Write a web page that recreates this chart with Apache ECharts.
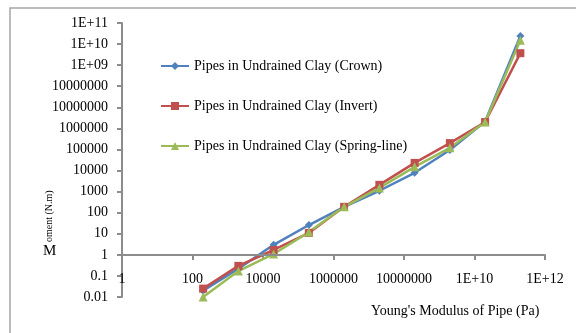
<!DOCTYPE html>
<html><head><meta charset="utf-8">
<script src="https://cdn.jsdelivr.net/npm/echarts@6/dist/echarts.min.js"></script>
<style>html,body{margin:0;padding:0;background:#fff}#c{width:576px;height:333px}</style>
</head><body><div id="c"></div>
<script>
const xValues = [2e2, 2e3, 2e4, 2e5, 2e6, 2e7, 2e8, 2e9, 2e10, 2e11];
const crown = [0.02, 0.22, 3, 26, 190, 1100, 7800, 95000, 2.1e6, 2.4e10];
const invert = [0.025, 0.3, 1.7, 11, 190, 2100, 23000, 200000, 2e6, 3.7e9];
const springLine = [0.01, 0.17, 1.1, 12, 190, 1500, 15000, 120000, 2e6, 1.5e10];
const seriesNames = ['Pipes in Undrained Clay (Crown)', 'Pipes in Undrained Clay (Invert)', 'Pipes in Undrained Clay (Spring-line)'];
const yTickLabels = {'-2':'0.01','-1':'0.1','0':'1','1':'10','2':'100','3':'1000','4':'10000','5':'100000','6':'1000000','7':'10000000','8':'10000000','9':'1E+09','10':'1E+10','11':'1E+11'};
const xTickLabels = {'0':'1','2':'100','4':'10000','6':'1000000','8':'10000000','10':'1E+10','12':'1E+12'};
const font = 'Liberation Serif';
const colors = ['#4F81BD', '#C0504D', '#9BBB59'];
const pair = arr => xValues.map((x, i) => [x, arr[i]]);
const exp = v => String(Math.round(Math.log10(v)));
const chart = echarts.init(document.getElementById('c'), null, {renderer: 'canvas'});
const mk = (name, data, color, symbol, size) => ({
  name, type: 'line', data: pair(data), symbol, symbolSize: size,
  lineStyle: {color, width: 2.5}, itemStyle: {color}, z: 3
});
const s0 = mk(seriesNames[0], crown, colors[0], 'diamond', 8);
s0.markLine = {silent: true, symbol: 'none', label: {show: false},
  lineStyle: {color: '#8c8c8c', width: 2, type: 'solid'}, data: [{yAxis: 1}]};
chart.setOption({
  animation: false,
  color: colors,
  textStyle: {fontFamily: font},
  grid: {left: 122, right: 31, top: 23, bottom: 36},
  legend: {
    orient: 'vertical', left: 155, top: 54, itemGap: 26, itemWidth: 28, itemHeight: 10,
    textStyle: {fontFamily: font, fontSize: 14, color: '#000', width: 220},
    data: seriesNames
  },
  xAxis: {
    type: 'log', logBase: 10, min: 1, max: 1e12, interval: 2, offset: -42,
    axisLine: {show: true, lineStyle: {color: '#8c8c8c', width: 2}},
    axisTick: {show: true, length: 5, lineStyle: {color: '#8c8c8c', width: 2}},
    axisLabel: {margin: 17, fontSize: 14, color: '#000', fontFamily: font,
      formatter: v => xTickLabels[exp(v)] ?? ''},
    splitLine: {show: false}
  },
  yAxis: {
    type: 'log', logBase: 10, min: 0.01, max: 1e11, interval: 1,
    axisLine: {show: true, lineStyle: {color: '#8c8c8c', width: 2}},
    axisTick: {show: true, length: 5, lineStyle: {color: '#8c8c8c', width: 2}},
    axisLabel: {margin: 14, fontSize: 14, color: '#000', fontFamily: font,
      formatter: v => yTickLabels[exp(v)] ?? ''},
    splitLine: {show: false}
  },
  series: [s0, mk(seriesNames[1], invert, colors[1], 'rect', 8), mk(seriesNames[2], springLine, colors[2], 'triangle', 9)],
  graphic: [
    {type: 'rect', shape: {x: 10, y: 8, width: 700, height: 500}, style: {fill: 'none', stroke: '#a6a6a6', lineWidth: 1.5}, silent: true},
    {type: 'text', left: 371, top: 304, style: {text: "Young's Modulus of Pipe (Pa)", font: '14px "Liberation Serif"', fill: '#000'}},
    {type: 'text', left: 43, top: 244, style: {text: 'M', font: '15px "Liberation Serif"', fill: '#000'}},
    {type: 'text', x: 49, y: 242, rotation: Math.PI / 2, style: {text: 'oment (N.m)', font: '10px "Liberation Serif"', fill: '#000', align: 'left', verticalAlign: 'middle'}}
  ]
});
</script></body></html>
